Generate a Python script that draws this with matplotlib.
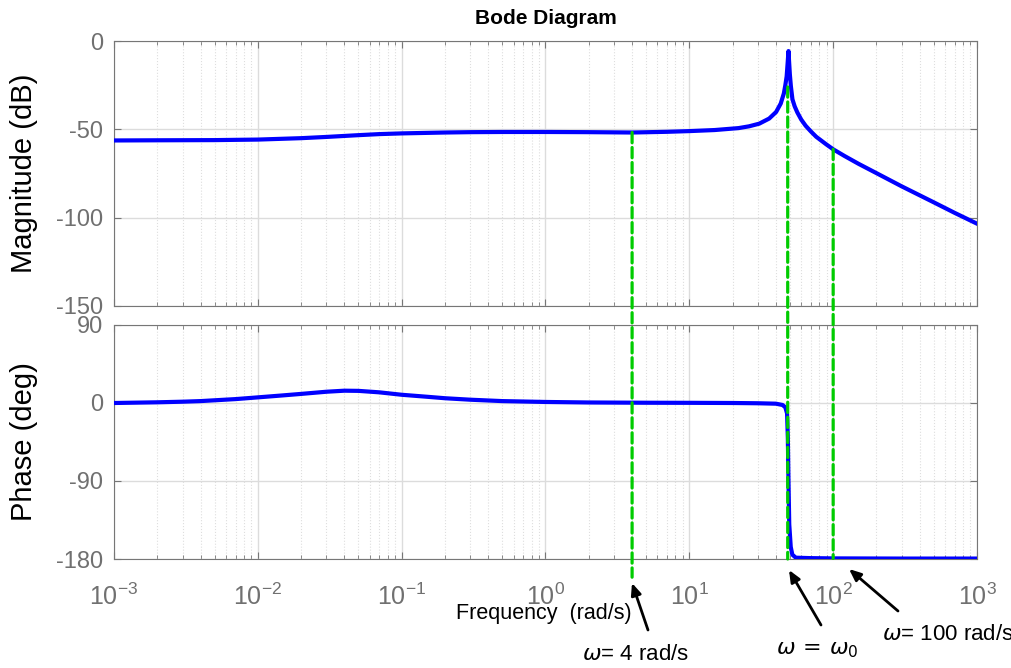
import matplotlib
matplotlib.use('Agg')
import matplotlib.pyplot as plt
from matplotlib.patches import ConnectionPatch, FancyArrowPatch
from matplotlib.ticker import LogLocator, NullFormatter

plt.rcParams['font.family'] = ['Liberation Sans', 'DejaVu Sans']
plt.rcParams['mathtext.fontset'] = 'dejavusans'
plt.rcParams['axes.unicode_minus'] = False

# Magnitude curve (rad/s, dB)
w_mag = [0.001, 0.002, 0.005, 0.01, 0.02, 0.03, 0.05, 0.07, 0.1, 0.2, 0.3, 0.5,
         1, 2, 4, 7, 10, 15, 22, 26, 30.6, 35.9, 40.1, 43.2, 45.4, 46.5, 47.5,
         48.2, 48.9, 49.4, 50, 50.8, 52.1, 54, 56.4, 60, 64.4, 70, 76.2, 89.5,
         100, 120, 150, 200, 300, 500, 700, 1000]
mag_db = [-56.3, -56.2, -56.1, -55.8, -55.0, -54.3, -53.3, -52.7, -52.3, -51.8,
          -51.6, -51.5, -51.5, -51.6, -51.8, -51.4, -51.0, -50.4, -49.3, -48.3,
          -46.8, -43.9, -40.2, -35.4, -29.7, -25.0, -20.0, -13.0, -5.7, -12.0,
          -19.0, -25.5, -33.0, -37.0, -40.5, -44.5, -48.0, -51.2, -54.2, -58.5,
          -61.3, -65.1, -69.5, -74.8, -82.3, -91.3, -97.3, -103.4]

# Phase curve (rad/s, deg)
w_ph = [0.001, 0.002, 0.003, 0.004, 0.007, 0.01, 0.015, 0.02, 0.03, 0.04, 0.05,
        0.07, 0.1, 0.15, 0.2, 0.3, 0.5, 1, 2, 5, 10, 20, 30, 40, 44.5, 46.5,
        47.8, 48.4, 48.9, 49.5, 50.7, 52, 55, 70, 100, 300, 1000]
phase_deg = [0, 0.8, 1.5, 2.2, 4.5, 6.5, 8.8, 10.5, 13.0, 14.2, 14.0, 12.3, 9.5,
             7.2, 5.5, 3.8, 2.2, 1.2, 0.6, 0.3, 0.2, 0, -0.3, -0.8, -2.3, -5.0,
             -12.0, -40.0, -90.0, -140.0, -166.0, -175.0, -178.5, -179.0, -179.3,
             -179.5, -179.5]

# marked frequencies: 4 rad/s, w0, 100 rad/s
mark_w = [4, 48.3, 100]
mark_top_db = [-51.8, -26.0, -61.3]
mark_bottom_deg = [-201, -180, -179.3]

labels = ['$\\omega$= 4 rad/s', '$\\omega\\,=\\,\\omega_0$', '$\\omega$= 100 rad/s']

W, H = 1012, 668
fig = plt.figure(figsize=(W / 100, H / 100), dpi=100)
ax1 = fig.add_axes([114 / W, 1 - 306 / H, 863 / W, 265 / H])
ax2 = fig.add_axes([114 / W, 1 - 559 / H, 863 / W, 234 / H])

gray = '#767676'
for ax in (ax1, ax2):
    ax.set_xscale('log')
    ax.set_xlim(1e-3, 1e3)
    ax.xaxis.set_minor_locator(LogLocator(base=10, subs=range(2, 10), numticks=20))
    ax.xaxis.set_minor_formatter(NullFormatter())
    ax.grid(True, which='major', color='#dcdcdc', lw=1, ls='-')
    ax.grid(True, which='minor', axis='x', color='#dedede', lw=0.8, ls=':')
    ax.set_axisbelow(True)
    ax.tick_params(which='both', direction='in', top=True, right=True,
                   color=gray, labelcolor='#707070')
    ax.tick_params(which='major', length=5)
    ax.tick_params(which='minor', length=3)
    ax.tick_params(axis='y', labelsize=17, pad=8)
    ax.tick_params(axis='x', labelsize=18, pad=18)
    for s in ax.spines.values():
        s.set_color(gray)

ax1.plot(w_mag, mag_db, color='#0000ff', lw=3, zorder=5)
ax1.set_ylim(-150, 0)
ax1.set_yticks([0, -50, -100, -150])
ax1.tick_params(axis='x', labelbottom=False)

ax2.plot(w_ph, phase_deg, color='#0000ff', lw=3, zorder=5)
ax2.set_ylim(-180, 90)
ax2.set_yticks([90, 0, -90, -180])

ax1.text(-0.1043, 0.5, 'Magnitude (dB)', transform=ax1.transAxes, rotation=90,
         ha='center', va='center', fontsize=21)
ax2.text(-0.1043, 0.5, 'Phase (deg)', transform=ax2.transAxes, rotation=90,
         ha='center', va='center', fontsize=21)
ax2.text(0.4986, -0.231, 'Frequency  (rad/s)', transform=ax2.transAxes,
         ha='center', va='center', fontsize=15.5)
fig.text(546 / W, 1 - 18 / H, 'Bode Diagram', ha='center', va='center',
         fontsize=15, fontweight='bold')

# green dashed markers spanning both panels
for w, top, bot in zip(mark_w, mark_top_db, mark_bottom_deg):
    con = ConnectionPatch(xyA=(w, top), coordsA=ax1.transData,
                          xyB=(w, bot), coordsB=ax2.transData,
                          color='#00cc00', lw=2.3, ls=(0, (3.2, 1.5)), zorder=6)
    fig.add_artist(con)

# arrows and labels (figure pixel positions, y from the top)
heads = [(632, 583), (789, 570), (849, 569)]
tails = [(648, 630), (821, 625), (898, 611)]
text_pos = [(636, 655), (817, 650), (948, 635)]
for (hx, hy), (tx, ty), (lx, ly), lab in zip(heads, tails, text_pos, labels):
    fig.add_artist(FancyArrowPatch(
        (tx / W, 1 - ty / H), (hx / W, 1 - hy / H), transform=fig.transFigure,
        arrowstyle='-|>,head_length=7,head_width=3', color='black', lw=2,
        shrinkA=0, shrinkB=0))
    fig.text(lx / W, 1 - ly / H, lab, ha='center', va='center', fontsize=16)

fig.savefig('out.png', dpi=100)
